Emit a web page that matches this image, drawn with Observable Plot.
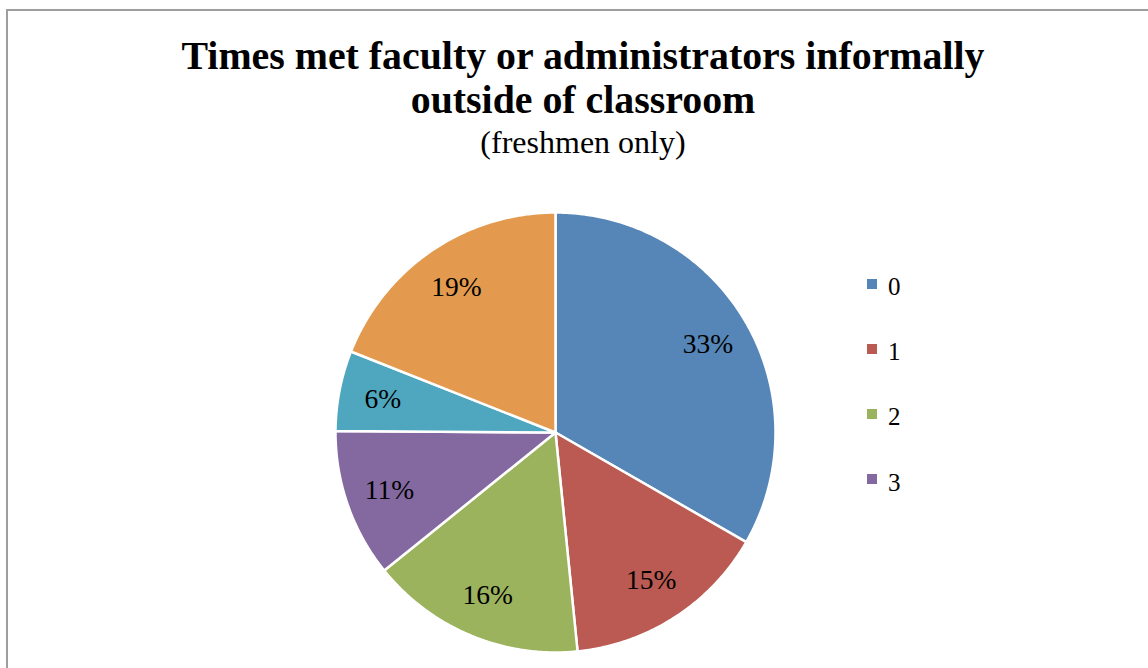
<!DOCTYPE html>
<html>
<head>
<meta charset="utf-8">
<script src="https://cdn.jsdelivr.net/npm/d3@7"></script>
<script src="https://cdn.jsdelivr.net/npm/@observablehq/plot@0.6"></script>
<style>
  html, body { margin: 0; padding: 0; background: #fff; overflow: hidden; }
  #wrap { position: relative; width: 1148px; height: 668px; font-family: "Liberation Serif", serif; }
  #frame { position: absolute; left: 6px; top: 9px; width: 1200px; height: 720px; border: 2px solid #9e9e9e; box-sizing: border-box; pointer-events: none; }
  #chart { position: absolute; left: 0; top: 0; }
  .title { position: absolute; left: 0; width: 1166px; text-align: center; color: #000; white-space: nowrap; }
  #t1, #t1b { font-weight: bold; }
  .leg { position: absolute; font-size: 25px; line-height: 25px; color: #000; }
  .sw { position: absolute; width: 10px; height: 10px; }
</style>
</head>
<body>
<div id="wrap">
  <div id="chart"></div>
  <div class="title" id="t1">Times met faculty or administrators informally</div>
  <div class="title" id="t1b">outside of classroom</div>
  <div class="title" id="t2">(freshmen only)</div>
  <div id="legend"></div>
  <div id="frame"></div>
</div>
<script>
const categories = ["0", "1", "2", "3", "4", "5"];
const values = [33.3, 15.1, 15.8, 10.9, 5.9, 19.0];
const sliceLabels = ["33%", "15%", "16%", "11%", "6%", "19%"];
const colors = ["#5686B8", "#BA5A52", "#9CB35E", "#8469A0", "#4FA7BF", "#E39A4E"];
const legendItems = ["0", "1", "2", "3"];

const total = d3.sum(values);
const rows = [];
const labelRows = [];
let cum = 0;
categories.forEach((key, i) => {
  const a0 = cum / total * 2 * Math.PI;
  cum += values[i];
  const a1 = cum / total * 2 * Math.PI;
  rows.push({key, x: 0, y: 0});
  const n = Math.max(2, Math.ceil((a1 - a0) / (Math.PI / 360)));
  for (let k = 0; k <= n; k++) {
    const a = a0 + (a1 - a0) * k / n;
    rows.push({key, x: Math.sin(a), y: Math.cos(a)});
  }
  rows.push({key, x: 0, y: 0});
  const am = (a0 + a1) / 2;
  labelRows.push({key, text: sliceLabels[i], x: 0.8 * Math.sin(am), y: 0.8 * Math.cos(am)});
});

const chart = Plot.plot({
  width: 1148,
  height: 668,
  margin: 0,
  style: {background: "transparent", fontFamily: "Liberation Serif, serif"},
  x: {domain: [-1, 1], range: [335, 775], axis: null},
  y: {domain: [-1, 1], range: [652, 212], axis: null},
  color: {domain: categories, range: colors},
  marks: [
    Plot.line(rows, {x: "x", y: "y", z: "key", fill: "key", stroke: "white", strokeWidth: 2.5, strokeLinejoin: "round", curve: "linear"}),
    Plot.text(labelRows, {x: "x", y: "y", text: "text", fontSize: 27.5, fill: "black", lineAnchor: "middle", textAnchor: "middle"})
  ]
});
document.getElementById("chart").appendChild(chart);

// fit title text widths to the reference layout
const ctx = document.createElement("canvas").getContext("2d");
function fitSize(text, weight, targetW) {
  ctx.font = `${weight} 100px "Liberation Serif"`;
  return 100 * targetW / ctx.measureText(text).width;
}
function place(id, size, baseline) {
  const el = document.getElementById(id);
  el.style.fontSize = size + "px";
  el.style.lineHeight = size + "px";
  // baseline = top + (lh - 1.107 fs)/2 + 0.891 fs
  el.style.top = (baseline - (size - 1.107 * size) / 2 - 0.891 * size) + "px";
}
const s1 = Math.min(fitSize("Times met faculty or administrators informally", "bold", 804), 40);
place("t1", s1, 69);
place("t1b", s1, 113);
const s2 = Math.min(fitSize("(freshmen only)", "normal", 218), 32);
place("t2", s2, 153);

const legend = document.getElementById("legend");
const legTop = [283.5, 348.5, 413.5, 479];
legendItems.forEach((k, i) => {
  const sw = document.createElement("div");
  sw.className = "sw";
  sw.style.left = "867px";
  sw.style.top = (legTop[i] - 5) + "px";
  sw.style.background = colors[categories.indexOf(k)];
  legend.appendChild(sw);
  const t = document.createElement("div");
  t.className = "leg";
  t.style.left = "888px";
  t.style.top = (legTop[i] - 12.5 + 3) + "px";
  t.textContent = k;
  legend.appendChild(t);
});
</script>
</body>
</html>
